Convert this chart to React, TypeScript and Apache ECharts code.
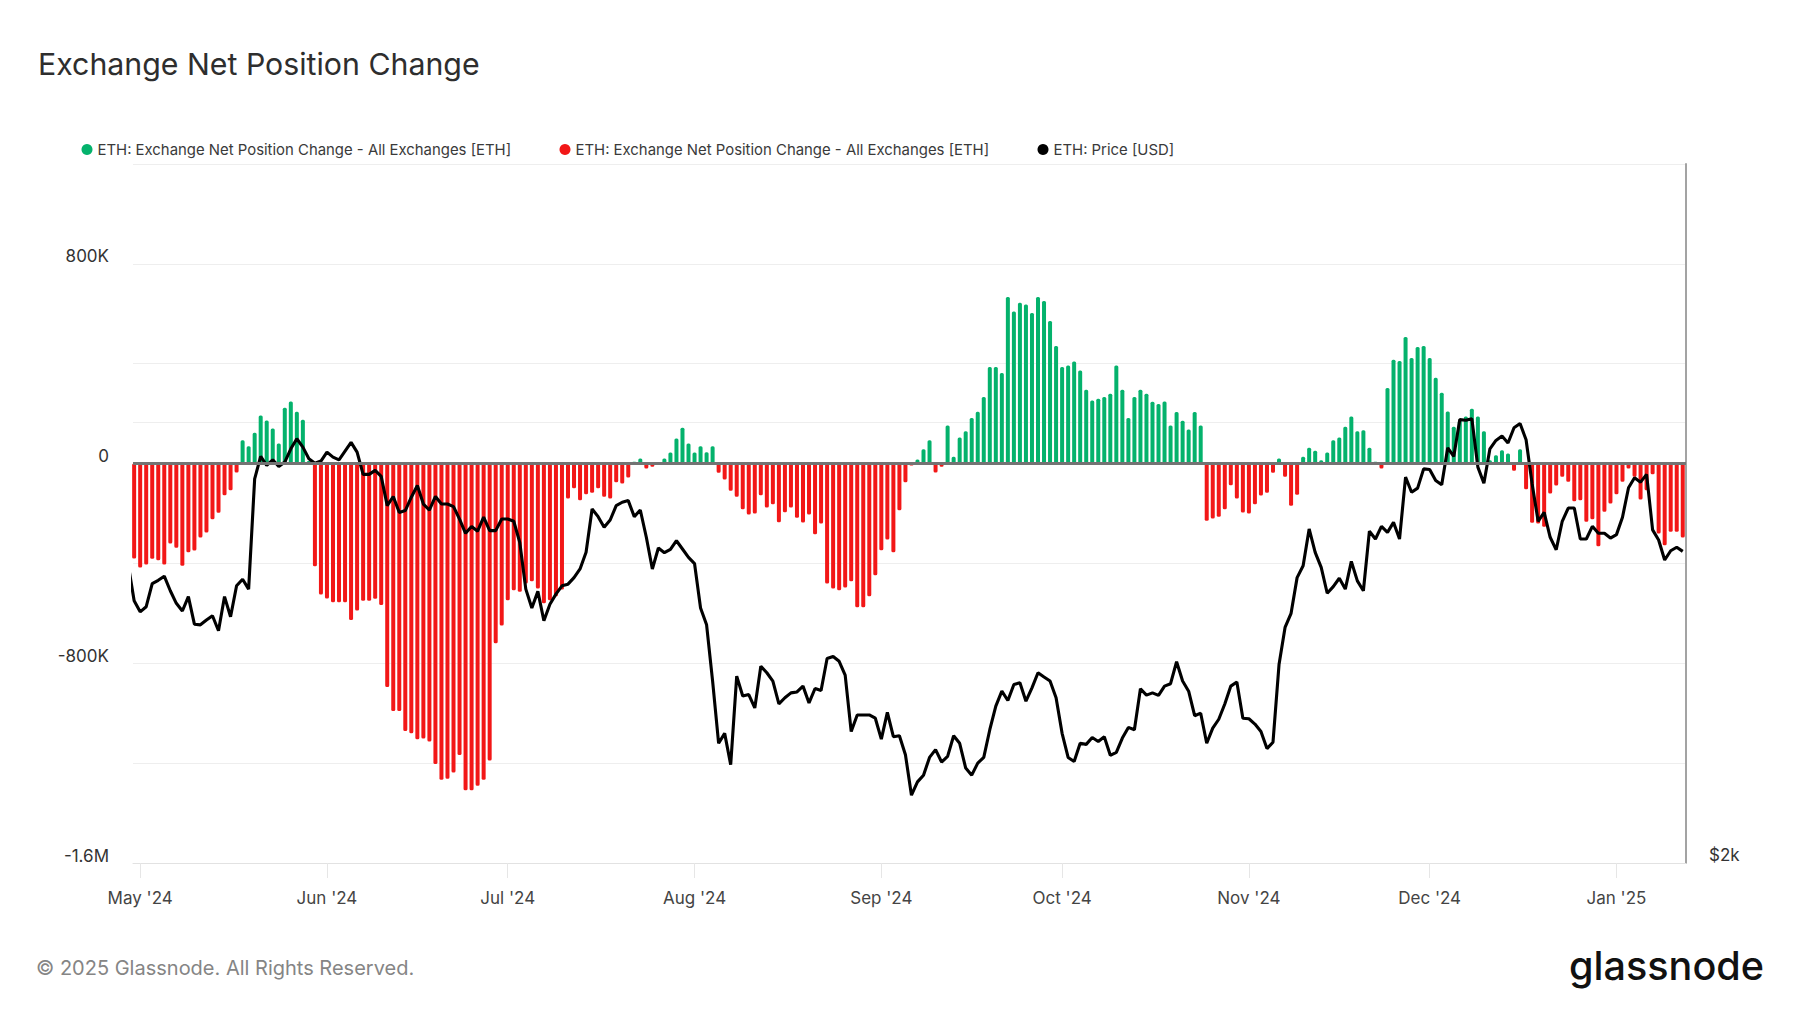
import React, { useEffect, useRef } from 'react';
import * as echarts from 'echarts';

const DAY = 86400000;
// first bar: 30 Apr 2024, one bar per day up to 12 Jan 2025
const BAR_START = Date.UTC(2024, 3, 30);
// price series begins one day earlier (29 Apr 2024), clipped at the left edge
const PRICE_START = Date.UTC(2024, 3, 29);

const netChange: number[] = [
  -380000, -416000, -404000, -381000, -387000, -404000, -320000, -337000, -409000, -355000,
  -348000, -296000, -276000, -223000, -197000, -127000, -107000, -36000, 93000, 69000,
  123000, 193000, 173000, 140000, 80000, 224000, 249000, 208000, 176000, 10000,
  -411000, -524000, -540000, -556000, -556000, -556000, -627000, -589000, -549000, -549000,
  -541000, -567000, -895000, -991000, -991000, -1071000, -1080000, -1104000, -1101000, -1113000,
  -1203000, -1267000, -1263000, -1237000, -1167000, -1309000, -1309000, -1291000, -1267000, -1189000,
  -720000, -649000, -547000, -507000, -513000, -480000, -471000, -500000, -560000, -547000,
  -531000, -504000, -140000, -99000, -147000, -123000, -117000, -99000, -133000, -140000,
  -75000, -80000, -56000, 7000, 20000, -20000, -13000, 3000, 20000, 44000,
  100000, 143000, 80000, 44000, 69000, 45000, 69000, -37000, -64000, -109000,
  -133000, -183000, -204000, -200000, -127000, -176000, -163000, -235000, -195000, -176000,
  -217000, -236000, -204000, -283000, -240000, -480000, -500000, -507000, -496000, -471000,
  -576000, -576000, -531000, -447000, -347000, -304000, -355000, -187000, -75000, -8000,
  16000, 57000, 93000, -36000, -13000, 153000, 27000, 104000, 129000, 183000,
  208000, 267000, 387000, 387000, 363000, 667000, 609000, 644000, 637000, 603000,
  667000, 651000, 571000, 471000, 387000, 393000, 409000, 373000, 296000, 253000,
  260000, 267000, 280000, 393000, 296000, 183000, 267000, 296000, 280000, 248000,
  239000, 249000, 153000, 207000, 172000, 136000, 207000, 153000, -229000, -220000,
  -213000, -183000, -87000, -140000, -196000, -200000, -163000, -128000, -117000, -37000,
  20000, -53000, -169000, -125000, 27000, 63000, 51000, 13000, 44000, 93000,
  104000, 147000, 189000, 129000, 133000, 63000, 7000, -20000, 303000, 416000,
  411000, 507000, 423000, 467000, 471000, 423000, 344000, 284000, 209000, 147000,
  173000, 189000, 220000, 189000, 129000, 13000, 33000, 53000, 40000, -29000,
  57000, -103000, -237000, -240000, -253000, -120000, -88000, -53000, -73000, -151000,
  -147000, -233000, -223000, -331000, -193000, -160000, -123000, -73000, -20000, -53000,
  -144000, -107000, -43000, -280000, -327000, -273000, -273000, -296000,
];

const price: number[] = [
  3200,
  3020, 2968, 2992, 3103, 3119, 3139, 3068, 3008, 2972, 3040,
  2911, 2908, 2930, 2950, 2881, 3040, 2945, 3092, 3124, 3076,
  3658, 3789, 3736, 3769, 3730, 3756, 3835, 3896, 3845, 3775,
  3749, 3762, 3815, 3785, 3769, 3821, 3874, 3815, 3684, 3684,
  3707, 3672, 3507, 3558, 3470, 3480, 3554, 3620, 3516, 3483,
  3558, 3516, 3516, 3502, 3434, 3358, 3394, 3369, 3444, 3372,
  3372, 3434, 3434, 3422, 3310, 3076, 2986, 3065, 2927, 3004,
  3052, 3092, 3100, 3132, 3175, 3259, 3489, 3447, 3390, 3429,
  3507, 3526, 3535, 3447, 3483, 3337, 3175, 3281, 3257, 3274,
  3319, 3276, 3233, 3202, 2986, 2908, 2662, 2414, 2452, 2334,
  2683, 2600, 2606, 2552, 2725, 2697, 2662, 2568, 2593, 2613,
  2617, 2641, 2572, 2631, 2623, 2758, 2767, 2746, 2687, 2459,
  2524, 2524, 2524, 2511, 2430, 2534, 2439, 2443, 2371, 2225,
  2272, 2296, 2361, 2390, 2344, 2365, 2443, 2414, 2322, 2296,
  2340, 2361, 2466, 2559, 2620, 2582, 2648, 2655, 2579, 2634,
  2697, 2679, 2662, 2593, 2452, 2361, 2346, 2414, 2410, 2436,
  2421, 2439, 2369, 2380, 2434, 2475, 2466, 2630, 2604, 2613,
  2603, 2641, 2651, 2744, 2662, 2620, 2521, 2531, 2414, 2472,
  2507, 2568, 2641, 2658, 2511, 2509, 2488, 2459, 2394, 2418,
  2732, 2896, 2961, 3132, 3191, 3381, 3259, 3183, 3056, 3088,
  3129, 3076, 3213, 3116, 3068, 3369, 3328, 3395, 3363, 3416,
  3328, 3668, 3582, 3605, 3716, 3712, 3649, 3624, 3841, 3789,
  4015, 4011, 4021, 3726, 3633, 3835, 3886, 3913, 3870, 3964,
  3990, 3890, 3630, 3422, 3470, 3337, 3272, 3422, 3494, 3494,
  3328, 3328, 3395, 3358, 3358, 3333, 3351, 3444, 3607, 3664,
  3639, 3684, 3376, 3323, 3220, 3267, 3285, 3264,
];

const monthTickDates = [
  '2024-05-01', '2024-06-01', '2024-07-01', '2024-08-01', '2024-09-01',
  '2024-10-01', '2024-11-01', '2024-12-01', '2025-01-01',
];
const monthTickLabels = [
  "May '24", "Jun '24", "Jul '24", "Aug '24", "Sep '24",
  "Oct '24", "Nov '24", "Dec '24", "Jan '25",
];

const leftTickValues = [800000, 0, -800000, -1600000];
const leftTickLabels = ['800K', '0', '-800K', '-1.6M'];

const rightTickValues = [2000];
const rightTickLabels = ['$2k'];
const rightGridValues = [4000];

const legendNames: Record<string, string> = {
  netPos: 'ETH: Exchange Net Position Change - All Exchanges [ETH]',
  netNeg: 'ETH: Exchange Net Position Change - All Exchanges [ETH]',
  price: 'ETH: Price [USD]',
};

const GREEN = '#04b26c';
const RED = '#f21717';
const FONT = 'Inter';

export default function App() {
  const ref = useRef<HTMLDivElement>(null);

  useEffect(() => {
    if (!ref.current) return;
    const chart = echarts.init(ref.current, null, { renderer: 'svg' });

    const monthTs = monthTickDates.map((d) => Date.parse(d + 'T00:00:00Z'));
    const posData: [number, number][] = [];
    const negData: [number, number][] = [];
    netChange.forEach((v, i) => {
      const t = BAR_START + i * DAY;
      if (v >= 0) posData.push([t, v]);
      else negData.push([t, v]);
    });
    const priceData = price.map((p, i) => [PRICE_START + i * DAY, p]);

    const legendBase = {
      top: 137,
      icon: 'circle',
      itemWidth: 11,
      itemHeight: 11,
      itemGap: 40,
      formatter: (name: string) => legendNames[name] ?? name,
      textStyle: { color: '#3a3a3a', fontSize: 14.9, fontFamily: FONT },
      selectedMode: false as const,
    };

    chart.setOption({
      animation: false,
      backgroundColor: '#ffffff',
      textStyle: { fontFamily: FONT },
      title: {
        text: 'Exchange Net Position Change',
        left: 33,
        top: 44,
        textStyle: { fontSize: 30.3, fontWeight: 'normal', color: '#2e2e2e', fontFamily: FONT },
      },
      legend: [
        { ...legendBase, left: 76.5, data: ['netPos'] },
        { ...legendBase, left: 554.5, data: ['netNeg'] },
        { ...legendBase, left: 1032.5, data: ['price'] },
      ],
      grid: { left: 133, right: 114, top: 164, bottom: 150 },
      xAxis: {
        type: 'value',
        min: BAR_START - 0.19 * DAY,
        max: BAR_START + 257.54 * DAY,
        axisLine: { show: true, onZero: false, lineStyle: { color: '#e2e2e2', width: 1 } },
        axisTick: {
          show: true,
          customValues: monthTs,
          length: 15,
          lineStyle: { color: '#e6e6e6', width: 1 },
        },
        axisLabel: {
          customValues: monthTs,
          margin: 26,
          color: '#444444',
          fontSize: 17,
          fontFamily: FONT,
          formatter: (v: number) => {
            const idx = monthTs.findIndex((t) => Math.abs(t - v) < DAY / 2);
            return idx >= 0 ? monthTickLabels[idx] : '';
          },
        },
        splitLine: { show: false },
      },
      yAxis: [
        {
          type: 'value',
          position: 'left',
          min: -1600000,
          max: 1200000,
          interval: 400000,
          axisLine: { show: false },
          axisTick: { show: false },
          splitLine: { show: true, lineStyle: { color: '#eeeeee', width: 1 } },
          axisLabel: {
            customValues: leftTickValues,
            margin: 24,
            verticalAlign: 'bottom',
            padding: [0, 0, -1, 0],
            color: '#333333',
            fontSize: 17,
            fontFamily: FONT,
            formatter: (v: number) => {
              const idx = leftTickValues.indexOf(v);
              return idx >= 0 ? leftTickLabels[idx] : '';
            },
          },
        },
        {
          type: 'log',
          logBase: 2,
          position: 'right',
          min: 2000,
          max: 6000,
          axisLine: { show: true, lineStyle: { color: '#a3a3a3', width: 2 } },
          axisTick: { show: false, customValues: rightGridValues },
          splitLine: { show: true, lineStyle: { color: '#eeeeee', width: 1 } },
          axisLabel: {
            customValues: rightTickValues,
            margin: 23,
            align: 'left',
            verticalAlign: 'bottom',
            color: '#333333',
            fontSize: 17,
            fontFamily: FONT,
            formatter: (v: number) => {
              const idx = rightTickValues.findIndex((t) => Math.abs(t - v) < 1);
              return idx >= 0 ? rightTickLabels[idx] : '';
            },
          },
        },
      ],
      series: [
        {
          name: 'netPos',
          type: 'bar',
          yAxisIndex: 0,
          data: posData,
          barWidth: 4,
          barGap: '-100%',
          itemStyle: { color: GREEN, borderRadius: 1.5 },
          z: 2,
        },
        {
          name: 'netNeg',
          type: 'bar',
          yAxisIndex: 0,
          data: negData,
          barWidth: 4,
          barGap: '-100%',
          itemStyle: { color: RED, borderRadius: 1.5 },
          z: 2,
          markLine: {
            silent: true,
            symbol: 'none',
            label: { show: false },
            lineStyle: { color: '#737373', width: 2.8, type: 'solid' },
            data: [{ yAxis: 0 }],
          },
        },
        {
          name: 'price',
          type: 'line',
          yAxisIndex: 1,
          data: priceData,
          showSymbol: false,
          symbol: 'none',
          clip: true,
          itemStyle: { color: '#000000' },
          lineStyle: { color: '#000000', width: 3.1 },
          z: 4,
        },
      ],
      graphic: [
        {
          type: 'text',
          x: 36,
          y: 968,
          style: {
            text: '© 2025 Glassnode. All Rights Reserved.',
            fill: '#858585',
            fontSize: 20,
            fontFamily: FONT,
            align: 'left',
            verticalAlign: 'middle',
          },
        },
        {
          type: 'text',
          x: 1764,
          y: 966,
          style: {
            text: 'glassnode',
            fill: '#111111',
            fontSize: 39.6,
            fontWeight: 500,
            fontFamily: FONT,
            align: 'right',
            verticalAlign: 'middle',
          },
        },
      ],
    });

    return () => chart.dispose();
  }, []);

  return (
    <div
      ref={ref}
      style={{ position: 'fixed', left: 0, top: 0, width: 1800, height: 1013, background: '#ffffff' }}
    />
  );
}
